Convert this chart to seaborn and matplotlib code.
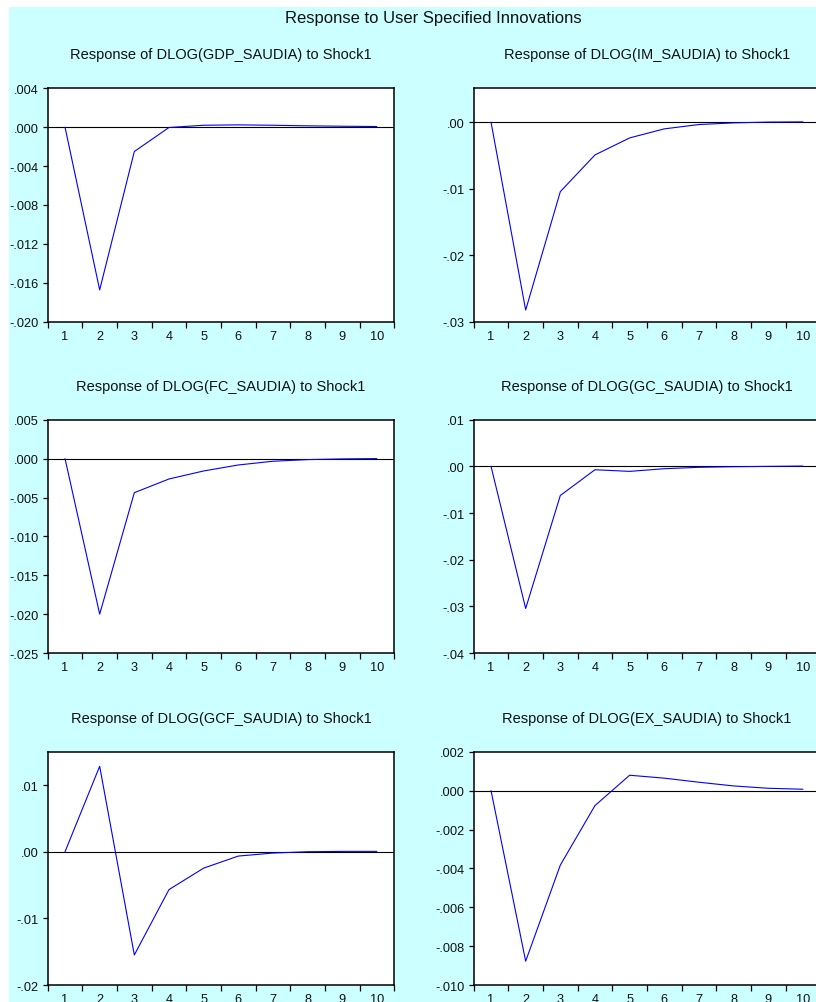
import numpy as np
import pandas as pd
import matplotlib
matplotlib.use("Agg")
import matplotlib.pyplot as plt
from matplotlib.patches import Rectangle
from matplotlib.ticker import FixedLocator, FuncFormatter, NullFormatter
import seaborn as sns

sns.set_style("white")
plt.rcParams["font.family"] = ["Liberation Sans", "DejaVu Sans"]

# Impulse-response periods
periods = [1, 2, 3, 4, 5, 6, 7, 8, 9, 10]

# Responses to Shock1
gdp = [0.0, -0.01673, -0.00250, -0.00003, 0.00020, 0.00024, 0.00020, 0.00014, 0.00010, 0.00007]
im = [0.0, -0.02825, -0.01044, -0.00492, -0.00236, -0.00100, -0.00035, -0.00010, 0.00002, 0.00005]
fc = [0.0, -0.01999, -0.00438, -0.00262, -0.00159, -0.00082, -0.00034, -0.00013, -0.00004, 0.00000]
gc = [0.0, -0.03044, -0.00623, -0.00072, -0.00107, -0.00050, -0.00020, -0.00007, 0.00000, 0.00007]
gcf = [0.0, 0.01281, -0.01548, -0.00568, -0.00246, -0.00065, -0.00020, 0.00000, 0.00005, 0.00005]
ex = [0.0, -0.00877, -0.00383, -0.00077, 0.00079, 0.00064, 0.00043, 0.00024, 0.00012, 0.00007]

titles = [
    "Response of DLOG(GDP_SAUDIA) to Shock1",
    "Response of DLOG(IM_SAUDIA) to Shock1",
    "Response of DLOG(FC_SAUDIA) to Shock1",
    "Response of DLOG(GC_SAUDIA) to Shock1",
    "Response of DLOG(GCF_SAUDIA) to Shock1",
    "Response of DLOG(EX_SAUDIA) to Shock1",
]
series = [gdp, im, fc, gc, gcf, ex]

# y-axis ticks and limits per panel
yticks = [
    [-0.020, -0.016, -0.012, -0.008, -0.004, 0.000, 0.004],
    [-0.03, -0.02, -0.01, 0.00],
    [-0.025, -0.020, -0.015, -0.010, -0.005, 0.000, 0.005],
    [-0.04, -0.03, -0.02, -0.01, 0.00, 0.01],
    [-0.02, -0.01, 0.00, 0.01],
    [-0.010, -0.008, -0.006, -0.004, -0.002, 0.000, 0.002],
]
ylims = [(-0.020, 0.004), (-0.030, 0.0051), (-0.025, 0.005),
         (-0.04, 0.01), (-0.02, 0.015), (-0.010, 0.002)]
decimals = [3, 2, 3, 2, 2, 3]

main_title = "Response to User Specified Innovations"

W, H = 816, 1003
fig = plt.figure(figsize=(W / 100, H / 100), dpi=100)
fig.patch.set_facecolor("white")
bg = "#CCFFFF"
fig.patches.append(Rectangle((9 / W, 0), 1 - 9 / W, 1 - 8 / H,
                             transform=fig.transFigure, facecolor=bg,
                             edgecolor="none", zorder=-10))

col_x = [47.7, 473.7]
row_top = [89.3, 420.7, 752.7]
ax_w, ax_h = 346.5, 233.4


def make_fmt(nd):
    def f(v, pos):
        s = f"{v:.{nd}f}"
        if s.startswith("-0."):
            s = "-" + s[2:]
        elif s.startswith("0."):
            s = s[1:]
        if set(s.replace("-", "").replace(".", "")) == {"0"}:
            s = s.replace("-", "")
        return s
    return f


for i, (vals, title) in enumerate(zip(series, titles)):
    r, c = divmod(i, 2)
    left = col_x[c] / W
    bottom = 1 - (row_top[r] + ax_h) / H
    ax = fig.add_axes([left, bottom, ax_w / W, ax_h / H])
    ax.set_facecolor("white")

    df = pd.DataFrame({"period": periods, "response": vals})
    sns.lineplot(data=df, x="period", y="response", ax=ax,
                 color="#0000FF", linewidth=0.8, zorder=3)
    ax.axhline(0, color="black", linewidth=0.8, zorder=2)

    ax.set_xlim(0.5, 10.5)
    ax.set_ylim(*ylims[i])
    ax.set_xlabel("")
    ax.set_ylabel("")

    # period boundaries carry tick marks, period centres carry labels
    ax.xaxis.set_major_locator(FixedLocator(np.arange(0.5, 11, 1.0)))
    ax.xaxis.set_major_formatter(NullFormatter())
    ax.xaxis.set_minor_locator(FixedLocator(periods))
    ax.xaxis.set_minor_formatter(FuncFormatter(lambda v, p: f"{int(round(v))}"))
    ax.tick_params(axis="x", which="major", direction="out", length=4.5,
                   width=0.9, color="black", bottom=True)
    ax.tick_params(axis="x", which="minor", length=0, pad=6,
                   labelsize=9.2, labelcolor="#111111", bottom=True)

    ax.set_yticks(yticks[i])
    ax.yaxis.set_major_formatter(FuncFormatter(make_fmt(decimals[i])))
    ax.tick_params(axis="y", direction="out", length=3.6, width=0.9,
                   color="black", pad=3, labelsize=9.2,
                   labelcolor="#111111", left=True)

    for sp in ax.spines.values():
        sp.set_color("black")
        sp.set_linewidth(1.1)
        sp.set_visible(True)

    ax.text(0.5, 1 + 34 / ax_h, title, transform=ax.transAxes,
            ha="center", va="center", fontsize=10.5, color="#111111")

fig.text(433 / W, 1 - 19 / H, main_title, ha="center", va="center",
         fontsize=12, color="#111111")

fig.savefig("out.png", dpi=100, facecolor=fig.get_facecolor())
